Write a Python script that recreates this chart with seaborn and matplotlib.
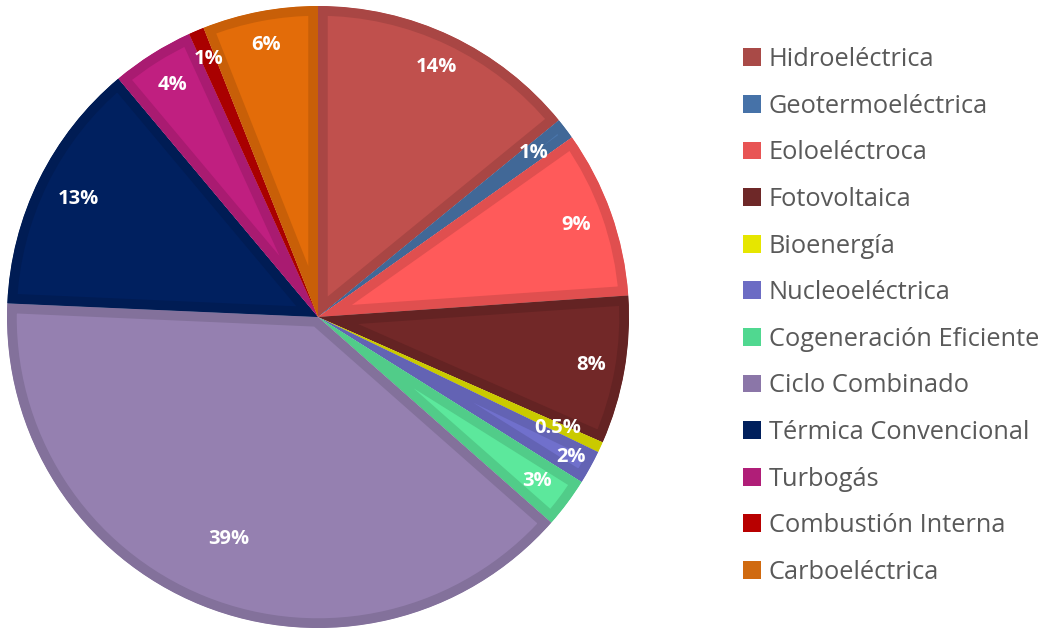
import numpy as np
import matplotlib
matplotlib.use("Agg")
import matplotlib.pyplot as plt
from matplotlib.patches import Patch
from matplotlib.colors import to_rgb
import seaborn as sns

sns.set_style("white")
plt.rcParams['font.family'] = ['Open Sans', 'DejaVu Sans']

# generation mix (share of total, %)
sources = ['Hidroeléctrica', 'Geotermoeléctrica', 'Eoloeléctroca', 'Fotovoltaica',
           'Bioenergía', 'Nucleoeléctrica', 'Cogeneración Eficiente', 'Ciclo Combinado',
           'Térmica Convencional', 'Turbogás', 'Combustión Interna', 'Carboeléctrica']
shares = [14.1, 1.1, 8.7, 7.7, 0.55, 1.75, 2.6, 39.2, 13.2, 4.3, 0.8, 6.0]
labels = ['14%', '1%', '9%', '8%', '0.5%', '2%', '3%', '39%', '13%', '4%', '1%', '6%']
colors = ['#C0504D', '#4A76AC', '#FF5A5A', '#722828', '#E6E600', '#7070CC',
          '#5CE89C', '#9580B0', '#00205F', '#C01F80', '#C00000', '#E36C09']
legend_colors = ['#A94A47', '#4672A8', '#E85454', '#6E2828', '#E6E600', '#6C6CC4',
                 '#50D890', '#8B76A8', '#001F5C', '#B01E78', '#B80000', '#D06A10']
# how far out each label sits (fraction of radius)
label_r = [0.89, 0.87, 0.88, 0.89, 0.85, 0.93, 0.88, 0.77, 0.86, 0.88, 0.90, 0.89]


def darker(c, f=0.88):
    r, g, b = to_rgb(c)
    return (r * f, g * f, b * f)


edge_colors = [darker(c) for c in colors]

W, H = 1041, 629
fig = plt.figure(figsize=(W / 100, H / 100), dpi=100)
cx, cy, R = 318, 317, 311
ax = fig.add_axes([(cx - R) / W, (H - cy - R) / H, 2 * R / W, 2 * R / H])

wedges, _ = ax.pie(shares, colors=colors, startangle=90, counterclock=False,
                   radius=1, wedgeprops=dict(linewidth=0))
# darker inner border: stroke clipped to the wedge itself
for w, ec in zip(wedges, edge_colors):
    w.set_edgecolor(ec)
    w.set_linewidth(14)
    w.set_clip_path(w)
    w.set_clip_on(True)

for w, lab, lr in zip(wedges, labels, label_r):
    ang = np.deg2rad((w.theta1 + w.theta2) / 2)
    ax.text(lr * np.cos(ang), lr * np.sin(ang), lab, ha='center', va='center',
            color='white', fontsize=14.5, fontweight='bold')

ax.set_xlim(-1, 1)
ax.set_ylim(-1, 1)
ax.set_aspect('equal')
ax.axis('off')

handles = [Patch(facecolor=c, edgecolor='none') for c in legend_colors]
fig.legend(handles, sources, loc='upper left', bbox_to_anchor=(733 / W, 1 - 37 / H),
           frameon=False, fontsize=18.3, labelcolor='#595959',
           handlelength=0.7, handleheight=0.7, handletextpad=0.3,
           labelspacing=0.85, borderaxespad=0)

fig.savefig('out.png', dpi=100)
